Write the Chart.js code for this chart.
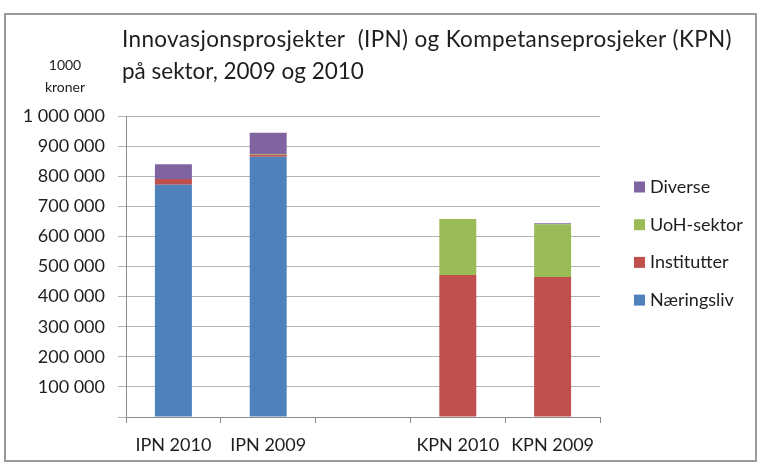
<!DOCTYPE html>
<html>
<head>
<meta charset="utf-8">
<script src="https://cdn.jsdelivr.net/npm/chart.js@4"></script>
<style>
  body { margin: 0; background: #fff; }
  canvas { display: block; }
</style>
</head>
<body>
<canvas id="myChart" width="761" height="464"></canvas>
<script>
// Kategorier langs x-aksen (tom kategori som skille mellom IPN og KPN)
const categories = ['IPN 2010', 'IPN 2009', '', 'KPN 2010', 'KPN 2009'];
// Verdier i 1000 kroner, lest av figuren
const naeringsliv = [772000, 865000, null, 2000, 2000];
const institutter = [19000, 6000, null, 470000, 463000];
const uohSektor = [0, 3000, null, 186000, 175000];
const diverse = [49000, 70000, null, 0, 4000];
const titleLines = ['Innovasjonsprosjekter  (IPN) og Kompetanseprosjeker (KPN)', 'på sektor, 2009 og 2010'];
const unitLines = ['1000', 'kroner'];

const FONT = 'Lato, "Open Sans", sans-serif';
const graph = document.getElementById('myChart');

// Format med mellomrom som tusenskille
function formatTick(value) {
    return String(value).replace(/\B(?=(\d{3})+(?!\d))/g, ' ');
}

// Ramme, tittel, enhet og legende tegnes her
const decorations = {
    id: 'decorations',
    beforeDraw(chart) {
        const ctx = chart.ctx;
        ctx.save();
        ctx.fillStyle = '#fff';
        ctx.fillRect(0, 0, chart.width, chart.height);
        ctx.strokeStyle = '#9a9a9a';
        ctx.lineWidth = 2;
        ctx.strokeRect(5, 14, 751, 447);
        ctx.restore();
    },
    afterDraw(chart) {
        const ctx = chart.ctx;
        ctx.save();
        ctx.fillStyle = '#1e1e1e';
        ctx.textBaseline = 'middle';
        ctx.textAlign = 'left';
        ctx.font = '22.5px ' + FONT;
        ctx.letterSpacing = '0.35px';
        ctx.fillText(titleLines[0], 122, 40);
        ctx.letterSpacing = '0px';
        ctx.fillText(titleLines[1], 122, 72);
        ctx.textAlign = 'center';
        ctx.font = '14px ' + FONT;
        ctx.fillText(unitLines[0], 65, 65);
        ctx.fillText(unitLines[1], 65, 87);
        // legende i omvendt rekkefolge
        const sets = chart.data.datasets.slice().reverse();
        ctx.textAlign = 'left';
        ctx.font = '18px ' + FONT;
        sets.forEach((ds, i) => {
            const y = 187 + i * 37.7;
            ctx.fillStyle = ds.backgroundColor;
            ctx.fillRect(634, y - 5.5, 11, 11);
            ctx.fillStyle = '#1e1e1e';
            ctx.fillText(ds.label, 650, y);
        });
        ctx.restore();
    }
};

new Chart(graph, {
    type: 'bar',
    data: {
        labels: categories,
        datasets: [
            { label: 'Næringsliv', data: naeringsliv, backgroundColor: '#4F81BD' },
            { label: 'Institutter', data: institutter, backgroundColor: '#C0504D' },
            { label: 'UoH-sektor', data: uohSektor, backgroundColor: '#9BBB59' },
            { label: 'Diverse', data: diverse, backgroundColor: '#8064A2' }
        ]
    },
    options: {
        responsive: false,
        animation: false,
        layout: { padding: { top: 116, right: 161, left: 0, bottom: 0 } },
        datasets: {
            bar: { categoryPercentage: 1, barPercentage: 0.39, borderWidth: 0 }
        },
        plugins: {
            legend: { display: false },
            tooltip: { enabled: false }
        },
        scales: {
            x: {
                stacked: true,
                grid: { offset: true, drawOnChartArea: false, tickLength: 6, color: '#8c8c8c' },
                border: { color: '#8c8c8c' },
                ticks: { color: '#1e1e1e', font: { family: FONT, size: 18 }, padding: 11, maxRotation: 0 },
                afterFit(scale) { scale.height = 47; }
            },
            y: {
                stacked: true,
                min: 0,
                max: 1000000,
                grid: { color: '#b4b4b4', tickLength: 8 },
                border: { color: '#8c8c8c' },
                ticks: {
                    stepSize: 100000,
                    color: '#1e1e1e',
                    font: { family: FONT, size: 18 },
                    padding: 13,
                    callback: (v) => v === 0 ? '' : formatTick(v)
                },
                afterFit(scale) { scale.width = 126; }
            }
        }
    },
    plugins: [decorations]
});
</script>
</body>
</html>
